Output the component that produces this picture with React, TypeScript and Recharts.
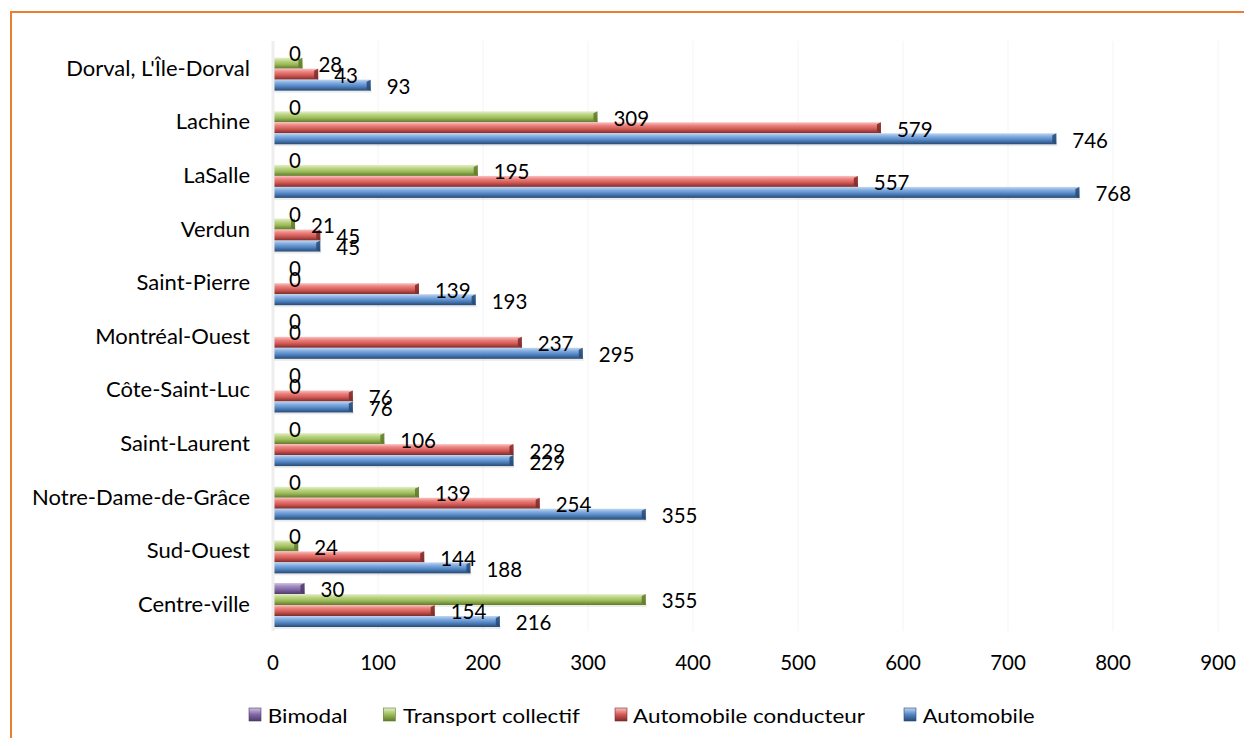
import React, { useLayoutEffect, useRef, useState } from 'react';
import { BarChart, Bar, XAxis, YAxis, CartesianGrid, LabelList } from 'recharts';

const categories = [
  "Dorval, L'Île-Dorval",
  'Lachine',
  'LaSalle',
  'Verdun',
  'Saint-Pierre',
  'Montréal-Ouest',
  'Côte-Saint-Luc',
  'Saint-Laurent',
  'Notre-Dame-de-Grâce',
  'Sud-Ouest',
  'Centre-ville',
];
const bimodal = [0, 0, 0, 0, 0, 0, 0, 0, 0, 0, 30];
const transportCollectif = [28, 309, 195, 21, 0, 0, 0, 106, 139, 24, 355];
const automobileConducteur = [43, 579, 557, 45, 139, 237, 76, 229, 254, 144, 154];
const automobile = [93, 746, 768, 45, 193, 295, 76, 229, 355, 188, 216];
const xTicks = [0, 100, 200, 300, 400, 500, 600, 700, 800, 900];

const seriesNames = ['Bimodal', 'Transport collectif', 'Automobile conducteur', 'Automobile'];

const data = categories.map((name, i) => ({
  name,
  bimodal: bimodal[i],
  transport: transportCollectif[i],
  conducteur: automobileConducteur[i],
  automobile: automobile[i],
}));

const palette: Record<string, { light: string; mid: string; base: string; dark: string }> = {
  purple: { light: '#cfc3e0', mid: '#a08ac2', base: '#8267a5', dark: '#4e3a69' },
  green: { light: '#e6f0cc', mid: '#bcd485', base: '#9cbc58', dark: '#5f7a2c' },
  red: { light: '#fac2c0', mid: '#ea807c', base: '#d35a56', dark: '#7d2b29' },
  blue: { light: '#c0d7f2', mid: '#80aade', base: '#5286c4', dark: '#274a74' },
};

const FONT = 'Lato, "Open Sans", sans-serif';

const makeShape = (key: string) => (props: any) => {
  const { x, y, width, height } = props;
  if (!width || width <= 0.5) return <g />;
  const c = palette[key];
  const b = Math.min(4, width / 2);
  return (
    <g>
      <rect x={x + 1} y={y + height - 1} width={width} height={3} fill="rgba(0,0,0,0.08)" />
      <rect x={x} y={y} width={width} height={height} fill={`url(#grad-${key})`} />
      <polygon
        points={`${x + width - b},${y + 2} ${x + width},${y} ${x + width},${y + height} ${x + width - b},${y + height - 2}`}
        fill={c.dark}
        opacity={0.85}
      />
    </g>
  );
};

const renderLabel = (props: any) => {
  const { x, y, width, height, value } = props;
  return (
    <text
      x={x + (width || 0) + 16}
      y={y + height / 2 + 1}
      fontSize={20.5}
      fontFamily={FONT}
      fill="#000"
      textAnchor="start"
      dominantBaseline="central"
    >
      {value}
    </text>
  );
};

const legendItems = [
  { name: seriesNames[0], key: 'purple', sx: 241, tx: 259.7, tw: 80 },
  { name: seriesNames[1], key: 'green', sx: 375.3, tx: 395, tw: 177 },
  { name: seriesNames[2], key: 'red', sx: 607, tx: 625, tw: 232 },
  { name: seriesNames[3], key: 'blue', sx: 896, tx: 914.7, tw: 112 },
];

function LegendText({ x, y, w, label }: { x: number; y: number; w: number; label: string }) {
  const ref = useRef<SVGTextElement>(null);
  const [s, setS] = useState(1);
  useLayoutEffect(() => {
    if (ref.current) {
      const natural = ref.current.getComputedTextLength();
      if (natural > 0) setS(w / natural);
    }
  }, [w]);
  return (
    <g transform={`translate(${x},${y}) scale(${s},1)`}>
      <text ref={ref} x={0} y={0} fontSize={19.5} fontFamily={FONT} fill="#000" dominantBaseline="central">
        {label}
      </text>
    </g>
  );
}

export default function App() {
  return (
    <div
      style={{
        position: 'relative',
        width: 1236,
        height: 730,
        overflow: 'hidden',
        background: '#fff',
        fontFamily: FONT,
      }}
    >
      <div
        style={{
          position: 'absolute',
          left: 2,
          top: 3,
          width: 1400,
          height: 1000,
          borderTop: '2px solid #ED7D31',
          borderLeft: '2px solid #ED7D31',
        }}
      />
      <div style={{ position: 'absolute', left: 0, top: 0 }}>
        <BarChart
          width={1236}
          height={730}
          layout="vertical"
          data={data}
          margin={{ top: 33, right: 26, bottom: 67, left: 0 }}
          barCategoryGap="10.5%"
          barGap={0}
        >
          <defs>
            {Object.keys(palette).map((k) => (
              <linearGradient key={k} id={`grad-${k}`} x1="0" y1="0" x2="0" y2="1">
                <stop offset="0%" stopColor={palette[k].light} />
                <stop offset="30%" stopColor={palette[k].mid} />
                <stop offset="60%" stopColor={palette[k].base} />
                <stop offset="100%" stopColor={palette[k].dark} />
              </linearGradient>
            ))}
          </defs>
          <CartesianGrid horizontal={false} vertical={true} stroke="#f4f4f4" />
          <XAxis
            type="number"
            domain={[0, 900]}
            ticks={xTicks}
            interval={0}
            height={40}
            axisLine={false}
            tickLine={false}
            tickSize={0}
            tickMargin={24}
            tick={{ fill: '#000', fontSize: 20.5, fontFamily: FONT }}
          />
          <YAxis
            type="category"
            dataKey="name"
            width={265}
            interval={0}
            axisLine={{ stroke: '#eeeeee', strokeWidth: 3 }}
            tickLine={false}
            tickSize={0}
            tickMargin={23}
            tick={{ fill: '#000', fontSize: 22, fontFamily: FONT }}
          />
          <Bar dataKey="bimodal" name={seriesNames[0]} fill="#8064a2" shape={makeShape('purple')} isAnimationActive={false}>
            <LabelList dataKey="bimodal" content={renderLabel} />
          </Bar>
          <Bar dataKey="transport" name={seriesNames[1]} fill="#9bbb59" shape={makeShape('green')} isAnimationActive={false}>
            <LabelList dataKey="transport" content={renderLabel} />
          </Bar>
          <Bar dataKey="conducteur" name={seriesNames[2]} fill="#c0504d" shape={makeShape('red')} isAnimationActive={false}>
            <LabelList dataKey="conducteur" content={renderLabel} />
          </Bar>
          <Bar dataKey="automobile" name={seriesNames[3]} fill="#4f81bd" shape={makeShape('blue')} isAnimationActive={false}>
            <LabelList dataKey="automobile" content={renderLabel} />
          </Bar>
        </BarChart>
      </div>
      <svg style={{ position: 'absolute', left: 0, top: 0 }} width={1236} height={730}>
        <defs>
          {Object.keys(palette).map((k) => (
            <linearGradient key={k} id={`lg-${k}`} x1="0" y1="0" x2="0" y2="1">
              <stop offset="0%" stopColor={palette[k].light} />
              <stop offset="50%" stopColor={palette[k].base} />
              <stop offset="100%" stopColor={palette[k].dark} />
            </linearGradient>
          ))}
        </defs>
        {legendItems.map((it) => (
          <g key={it.name}>
            <rect x={it.sx} y={700} width={12} height={13} fill={`url(#lg-${it.key})`} stroke={palette[it.key].dark} strokeWidth={0.6} />
            <LegendText x={it.tx} y={707} w={it.tw} label={it.name} />
          </g>
        ))}
      </svg>
    </div>
  );
}
